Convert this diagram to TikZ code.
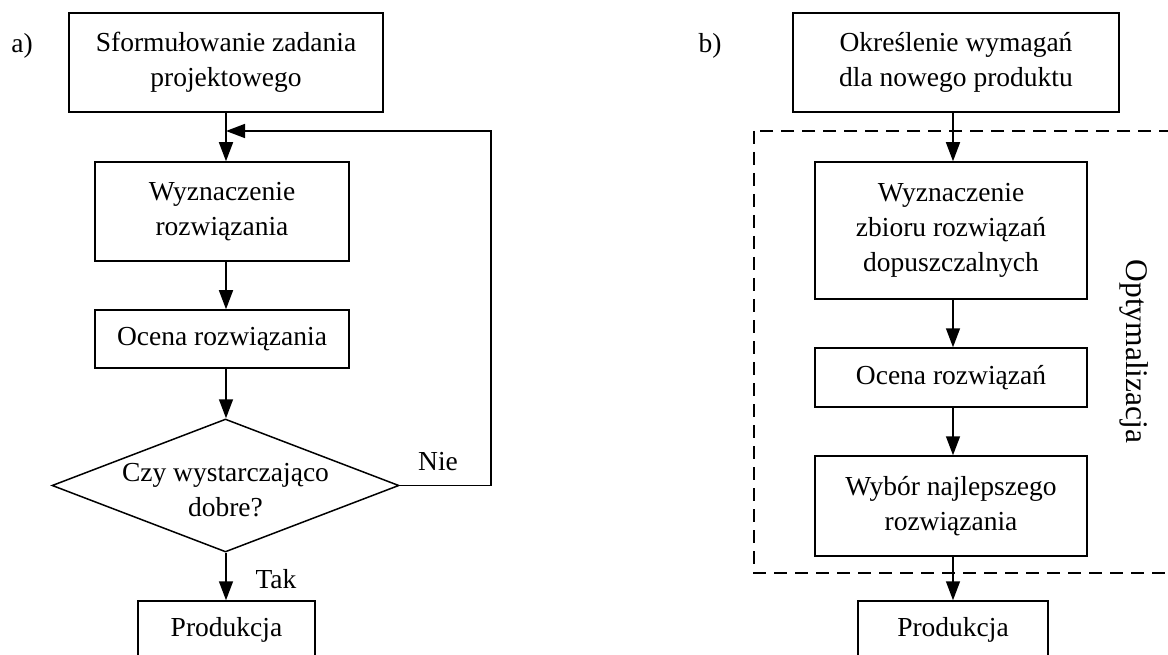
\documentclass[tikz,border=0pt]{standalone}
\usepackage{fontspec}
\setmainfont{Liberation Serif}
\usetikzlibrary{shapes.geometric,arrows.meta}
\begin{document}
\begin{tikzpicture}[x=1pt,y=-1pt,
  font=\fontsize{27.5}{35}\selectfont,
  every node/.style={inner sep=0pt},
  box/.style={draw,line width=1.5pt,align=center},
  flow/.style={line width=1.5pt,-{Triangle[length=19pt,width=14pt]}},
  optframe/.style={line width=1.5pt,dash pattern=on 13pt off 8pt}]
\fill[white] (0,0) rectangle (1168,655);
\clip (0,0) rectangle (1168,655);

% ---------- a) iterative design ----------
\node (la) at (22,46) {a)};
\node[box,minimum width=314pt,minimum height=99pt] (a1) at (226,62.5)
  {Sformułowanie zadania\\projektowego};
\node[box,minimum width=254pt,minimum height=99pt] (a2) at (222,211.5)
  {Wyznaczenie\\rozwiązania};
\node[box,minimum width=254pt,minimum height=58pt] (a3) at (222,339)
  {Ocena rozwiązania};
\node[draw,diamond,aspect=2.6,line width=1.5pt,minimum width=347pt,minimum height=133pt] (a4) at (225.5,485.5) {};
\node[align=center] (a4t) at (225.5,490) {Czy wystarczająco\\dobre?};
\node[box,minimum width=177pt,minimum height=58pt] (a5) at (226.5,630) {Produkcja};
\coordinate (ax) at (226,0);
\coordinate (loopc) at (491,131);

\draw[flow] (a1.south -| ax) -- (a2.north -| ax);
\draw[flow] (a2.south -| ax) -- (a3.north -| ax);
\draw[flow] (a3.south -| ax) -- (a4.north -| ax);
\draw[flow] (a4.south -| ax) -- (a5.north -| ax);
\draw[flow] (a4.east) -| (loopc) -- (loopc -| ax);
\node (nie) at (438,462) {Nie};
\node (tak) at (276,579) {Tak};

% ---------- b) optimisation ----------
\node (lb) at (710,46) {b)};
\node[box,minimum width=326pt,minimum height=99pt] (b1) at (956,62.5)
  {Określenie wymagań\\dla nowego produktu};
\node[box,minimum width=272pt,minimum height=137pt] (b2) at (951,230.5)
  {Wyznaczenie\\zbioru rozwiązań\\dopuszczalnych};
\node[box,minimum width=272pt,minimum height=59pt] (b3) at (951,377.5)
  {Ocena rozwiązań};
\node[box,minimum width=272pt,minimum height=100pt] (b4) at (951,506)
  {Wybór najlepszego\\rozwiązania};
\node[box,minimum width=190pt,minimum height=58pt] (b5) at (953,630) {Produkcja};
\coordinate (bx) at (953,0);

\draw[optframe] (754,131) rectangle (1172,573);
\node[rotate=-90,font=\fontsize{31.5}{38}\selectfont] (opt) at (1134,351.5) {Optymalizacja};

\draw[flow] (b1.south -| bx) -- (b2.north -| bx);
\draw[flow] (b2.south -| bx) -- (b3.north -| bx);
\draw[flow] (b3.south -| bx) -- (b4.north -| bx);
\draw[flow] (b4.south -| bx) -- (b5.north -| bx);
\end{tikzpicture}
\end{document}
